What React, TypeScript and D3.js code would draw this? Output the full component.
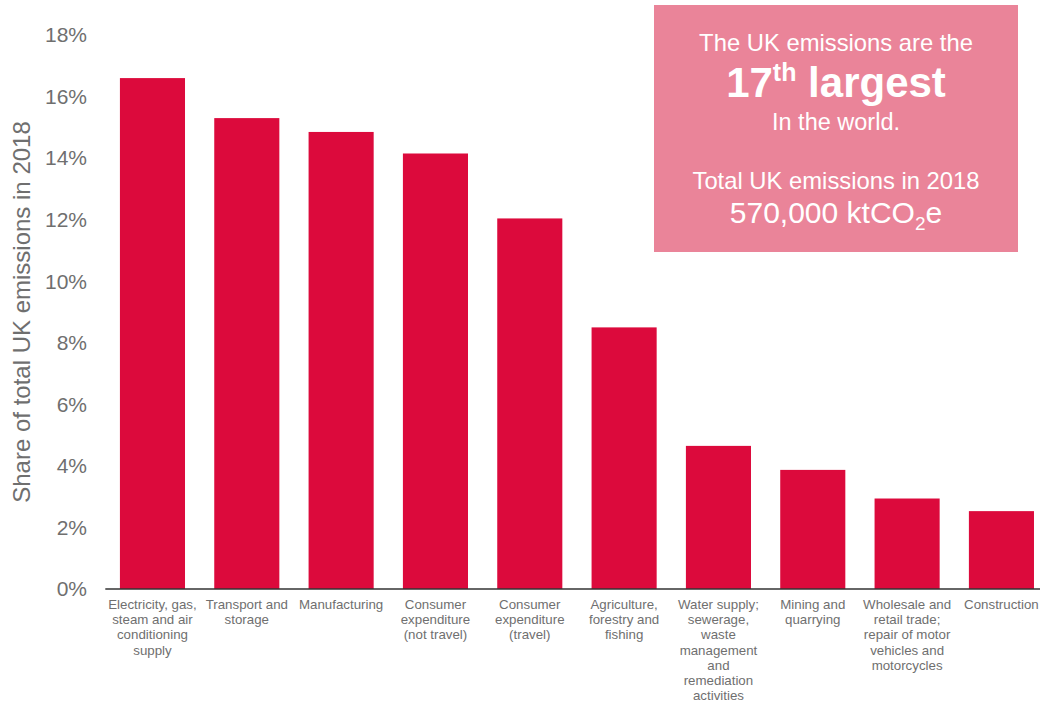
import React from "react";
import * as d3 from "d3";

const categories: string[][] = [
  ["Electricity, gas,", "steam and air", "conditioning", "supply"],
  ["Transport and", "storage"],
  ["Manufacturing"],
  ["Consumer", "expenditure", "(not travel)"],
  ["Consumer", "expenditure", "(travel)"],
  ["Agriculture,", "forestry and", "fishing"],
  ["Water supply;", "sewerage,", "waste", "management", "and", "remediation", "activities"],
  ["Mining and", "quarrying"],
  ["Wholesale and", "retail trade;", "repair of motor", "vehicles and", "motorcycles"],
  ["Construction"],
];
const shares: number[] = [16.6, 15.3, 14.85, 14.15, 12.04, 8.5, 4.65, 3.87, 2.94, 2.53];
const yTicks: number[] = [0, 2, 4, 6, 8, 10, 12, 14, 16, 18];

const W = 1040;
const H = 703;
const left = 105.3;
const right = 1048.6;
const top = 35;
const bottom = 589;

export default function App() {
  const x = d3
    .scaleBand<number>()
    .domain(d3.range(categories.length))
    .range([left, right])
    .paddingInner(0.31)
    .paddingOuter(0.155);
  const y = d3.scaleLinear().domain([0, 18]).range([bottom, top]);
  const font = "'Liberation Sans', Arial, sans-serif";
  const grey = "#6f6f6f";
  return (
    <svg
      width={W}
      height={H}
      style={{ position: "absolute", left: 0, top: 0, fontFamily: font }}
    >
      <rect x={0} y={0} width={W} height={H} fill="#fff" />
      {shares.map((v, i) => (
        <rect
          key={i}
          x={x(i)}
          y={y(v)}
          width={x.bandwidth()}
          height={y(0) - y(v)}
          fill="#dc0a3c"
        />
      ))}
      <line x1={left} x2={W} y1={bottom} y2={bottom} stroke="#333" strokeWidth={1.5} />
      {yTicks.map((t) => (
        <text
          key={t}
          x={87}
          y={y(t)}
          dy="0.35em"
          textAnchor="end"
          fontSize={21}
          fill={grey}
        >
          {t}%
        </text>
      ))}
      <text
        transform={`translate(30,312) rotate(-90)`}
        textAnchor="middle"
        fontSize={24}
        fill={grey}
      >
        Share of total UK emissions in 2018
      </text>
      {categories.map((lines, i) => (
        <text
          key={i}
          x={(x(i) as number) + x.bandwidth() / 2}
          y={609}
          textAnchor="middle"
          fontSize={13.3}
          fill={grey}
        >
          {lines.map((l, j) => (
            <tspan key={j} x={(x(i) as number) + x.bandwidth() / 2} dy={j === 0 ? 0 : 15.2}>
              {l}
            </tspan>
          ))}
        </text>
      ))}
      <g>
        <rect x={654} y={5} width={364} height={247} fill="#ea8499" />
        <text x={836} y={51} textAnchor="middle" fontSize={23.8} fill="#fff">
          The UK emissions are the
        </text>
        <text x={836} y={97} textAnchor="middle" fontSize={42} fontWeight="bold" fill="#fff">
          17
          <tspan fontSize={25} dy={-16}>th</tspan>
          <tspan dy={16}> largest</tspan>
        </text>
        <text x={836} y={130} textAnchor="middle" fontSize={23.5} fill="#fff">
          In the world.
        </text>
        <text x={836} y={189} textAnchor="middle" fontSize={23.8} fill="#fff">
          Total UK emissions in 2018
        </text>
        <text x={836} y={223} textAnchor="middle" fontSize={30} fill="#fff">
          570,000 ktCO
          <tspan fontSize={19} dy={7}>2</tspan>
          <tspan dy={-7}>e</tspan>
        </text>
      </g>
    </svg>
  );
}
